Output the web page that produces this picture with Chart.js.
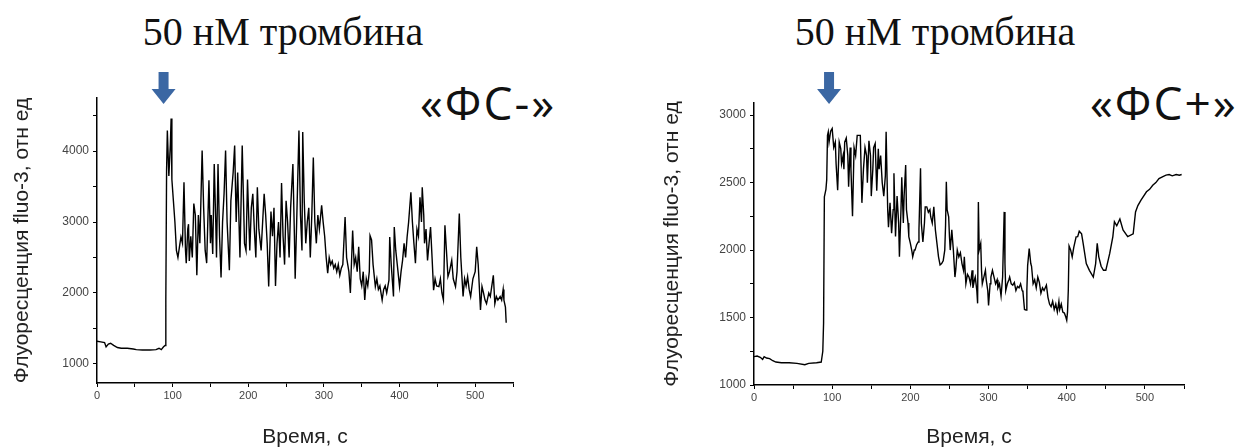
<!DOCTYPE html>
<html>
<head>
  <meta charset="UTF-8" />
  <title>fluo-3</title>
  <script src="https://cdn.jsdelivr.net/npm/chart.js"></script>
  <style>
    body {
      margin: 0;
      background: #fff;
      width: 1238px;
      height: 448px;
      position: relative;
      overflow: hidden;
    }
    .box { position: absolute; top: 0; height: 448px; }
    .head {
      position: absolute;
      top: 12px;
      font-family: "Liberation Serif", serif;
      font-size: 40px;
      line-height: 40px;
      color: #111;
      white-space: nowrap;
      transform: translateX(-50%);
    }
    .tag {
      position: absolute;
      top: 79px;
      font-family: "Open Sans", sans-serif;
      font-size: 46px;
      line-height: 46px;
      letter-spacing: 2px;
      color: #111;
      white-space: nowrap;
    }
  </style>
</head>
<body>
  <div class="head" style="left:283px">50 нМ тромбина</div>
  <div class="head" style="left:935px">50 нМ тромбина</div>
  <div class="tag" style="left:420px">«ФС-»</div>
  <div class="tag" style="left:1090px">«ФС+»</div>

  <div class="box" style="left:0px;width:560px"><canvas id="chartMinus"></canvas></div>
  <div class="box" style="left:620px;width:618px"><canvas id="chartPlus"></canvas></div>

  <script>
    // «ФС-» – время (с) и флуоресценция (отн. ед.)
    const minusTime = [0,5,10,12,15,18,22,27,32,40,48,52,60,70,78,82,85,88,90,91,92,93,95,97,98,99,101,103,105,107,109,111,113,115,117,118,120,121,122,124,126,128,130,132,134,136,139,141,143,145,148,150,151,153,155,157,158,160,162,164,166,168,170,172,175,177,180,182,184,186,189,192,195,197,199,202,204,206,208,210,212,214,217,219,221,223,225,227,230,232,234,236,238,240,242,244,246,248,250,252,254,256,259,261,262,264,267,269,271,272,274,276,278,280,282,284,286,288,290,292,294,297,299,301,303,305,307,309,311,313,315,317,319,321,323,325,328,330,333,335,338,340,342,344,346,348,350,352,354,356,358,360,361,363,365,368,370,372,374,377,379,381,383,386,387,389,392,393,395,397,400,402,404,406,408,410,412,415,417,419,421,423,425,427,429,430,432,433,435,437,439,441,443,445,447,449,452,454,456,458,460,462,464,466,469,471,474,476,479,481,484,486,488,490,492,494,497,500,502,504,507,509,511,513,515,518,520,522,524,526,528,530,533,535,537,538,540,541];
    const minusValue = [1320,1310,1300,1240,1280,1290,1260,1230,1220,1220,1210,1200,1195,1195,1200,1220,1200,1240,1260,1900,3730,4290,3650,4100,4460,3600,3300,3000,2600,2500,2650,2790,2700,3560,2600,2420,2900,2970,2450,2800,2500,3260,3100,2250,3100,2700,4010,3200,2600,2420,3590,2700,3100,2550,3820,3000,2500,3820,2800,2220,3000,3400,4010,3000,2320,3300,3700,4080,3000,3700,2500,4080,2700,2600,3600,2600,3200,3400,2900,2500,3490,2900,2600,3000,3400,3100,2700,2090,3150,2800,3200,2100,2700,3000,2500,3550,2800,2400,3300,3000,2500,3200,3820,2800,2200,3000,4290,3100,2600,4270,3300,2700,3000,3200,2500,3100,3910,3000,2700,3100,2900,3236,3000,2800,2500,2280,2500,2400,2450,2350,2400,2300,2400,2250,2350,2400,3070,2500,2300,2000,2880,2400,2500,2300,2650,2200,2100,2300,1900,2200,2100,2300,2810,2750,2400,2090,2200,2050,2100,1900,2050,2100,2000,2180,2790,2400,1950,2930,2600,2400,2090,2300,2460,2700,2500,2790,3000,3420,3000,2700,2420,2900,2800,3350,3000,3490,3100,2700,2900,2460,2700,2930,2500,2040,2200,2100,2090,2200,2000,1900,2955,2600,2230,2300,2460,2200,2090,2300,3120,2500,1950,2200,2100,2230,2050,1950,2200,2300,2650,2400,1760,2090,2000,1900,1850,2000,1950,2100,2250,1850,1950,1900,1950,1900,2050,1900,1800,1580];

    // «ФС+»
    const plusTime = [0,4,8,11,13,16,20,24,28,35,45,55,65,70,80,86,88,89,90,92,93,94,95,96,98,100,102,104,105,107,109,111,112,114,115,116,118,120,121,123,124,126,128,130,132,134,136,138,140,142,144,145,147,149,150,152,153,155,157,159,160,162,164,166,168,169,171,172,174,176,178,179,181,183,185,186,188,189,191,192,194,195,197,198,200,202,203,205,206,208,210,211,213,214,216,218,219,221,223,225,226,228,230,232,234,236,238,240,242,244,245,246,247,249,250,251,253,255,257,258,260,262,264,266,268,269,271,273,275,277,279,280,282,283,285,286,287,288,290,291,292,294,296,297,299,300,302,303,305,307,309,311,312,314,316,318,320,321,322,324,326,327,329,331,333,335,337,339,341,343,344,346,348,349,350,352,354,355,357,359,361,363,365,367,369,371,374,376,378,380,382,384,386,388,390,391,393,395,397,399,400,401,402,403,405,407,409,412,414,416,419,421,425,429,434,437,439,441,444,447,450,455,459,461,464,468,472,478,485,488,491,495,502,506,510,514,518,523,527,531,535,540,544,547,550];
    const plusValue = [1210,1215,1205,1190,1210,1200,1195,1180,1170,1165,1165,1160,1150,1160,1165,1170,1250,1460,2395,2450,2520,2850,2876,2800,2880,2900,2760,2800,2640,2444,2800,2750,2640,2700,2600,2800,2830,2700,2470,2760,2600,2250,2760,2700,2850,2850,2850,2350,2600,2760,2700,2500,2810,2700,2400,2600,2760,2790,2440,2750,2600,2700,2500,2400,2550,2876,2300,2170,2350,2125,2300,2570,2100,2400,2200,1950,2300,2540,2200,2400,2630,2300,2200,2100,2050,1990,1950,2000,2000,2040,2060,2150,2607,2200,2060,2200,2320,2320,2280,2300,2247,2200,2320,2150,2050,1950,1890,1900,1920,2000,2180,2506,2300,2247,2100,2000,2150,2000,1800,1850,2000,1950,1980,1900,1850,1950,1750,1820,1800,1750,1850,1720,1780,1800,1700,1605,2357,2000,2050,1850,1750,1800,1850,1780,1700,1590,1750,1800,1850,1800,1750,1780,1720,1750,1660,1800,2283,1900,1700,1750,1780,1800,1750,1740,1760,1700,1730,1720,1750,1700,1690,1560,1555,1700,1885,2012,1900,1880,1750,1780,1720,1800,1760,1680,1720,1700,1740,1650,1600,1580,1620,1560,1600,1540,1620,1560,1600,1540,1533,1500,1480,1540,1700,2030,2000,1950,2020,2098,2100,2140,2120,2050,1900,1850,1800,1900,2050,1950,1880,1850,1850,1975,2100,2210,2180,2230,2150,2100,2120,2283,2330,2370,2432,2450,2480,2500,2530,2545,2555,2560,2550,2560,2555,2560];

    const xTickMarks = [0,50,100,150,200,250,300,350,400,450,500,550];
    const xTickLabels = [0,100,200,300,400,500];
    const minusYMarks = [1000,1500,2000,2500,3000,3500,4000,4500];
    const minusYLabels = [1000,2000,3000,4000];
    const plusYMarks = [1000,1250,1500,1750,2000,2250,2500,2750,3000];
    const plusYLabels = [1000,1500,2000,2500,3000];

    const thrombinAt = { minus: 88, plus: 96 }; // момент добавления тромбина, с
    const yTitle = 'Флуоресценция fluo-3, отн ед';
    const xTitle = 'Время, с';

    // синяя стрелка над графиком
    const arrowPlugin = {
      id: 'arrow',
      afterDraw(chart, args, opts) {
        const ctx = chart.ctx;
        const x = chart.scales.x.getPixelForValue(opts.at);
        ctx.save();
        ctx.fillStyle = '#3b67a3';
        ctx.fillRect(x - 5, 72, 10, 18);
        ctx.beginPath();
        ctx.moveTo(x - 12, 89);
        ctx.lineTo(x + 12, 89);
        ctx.lineTo(x, 104);
        ctx.closePath();
        ctx.fill();
        ctx.restore();
      }
    };

    function makeChart(id, times, values, cfg) {
      const points = times.map((t, i) => ({ x: t, y: values[i] }));
      const titleFont = { family: 'Liberation Sans', size: 21, lineHeight: 1 };

      return new Chart(document.getElementById(id), {
        type: 'line',
        data: {
          datasets: [{
            data: points,
            borderColor: '#000',
            borderWidth: 1.4,
            pointRadius: 0,
            tension: 0
          }]
        },
        plugins: [arrowPlugin],
        options: {
          responsive: true,
          maintainAspectRatio: false,
          animation: false,
          layout: { padding: cfg.padding },
          plugins: {
            legend: { display: false },
            tooltip: { enabled: false },
            arrow: { at: cfg.arrowAt }
          },
          scales: {
            x: {
              type: 'linear',
              min: 0,
              max: 550,
              afterFit: s => { s.height = cfg.xHeight; },
              afterBuildTicks: s => { s.ticks = xTickMarks.map(v => ({ value: v })); },
              ticks: {
                autoSkip: false,
                maxRotation: 0,
                color: '#444',
                font: { family: 'Liberation Sans', size: 11 },
                padding: 2,
                callback: v => xTickLabels.includes(v) ? String(v) : ''
              },
              grid: { drawOnChartArea: false, drawTicks: true, tickLength: 4, color: '#000' },
              border: { display: true, color: '#000', width: 1.5 },
              title: { display: true, text: xTitle, color: '#222', font: titleFont, padding: { top: 0, bottom: 0 } }
            },
            y: {
              min: cfg.yMin,
              max: cfg.yMax,
              afterFit: s => { s.width = cfg.yWidth; },
              afterBuildTicks: s => { s.ticks = cfg.yMarks.map(v => ({ value: v })); },
              ticks: {
                autoSkip: false,
                color: '#444',
                font: { family: 'Liberation Sans', size: 12 },
                padding: 4,
                callback: v => cfg.yLabels.includes(v) ? String(v) : ''
              },
              grid: { drawOnChartArea: false, drawTicks: true, tickLength: 4, color: '#000' },
              border: { display: true, color: '#000', width: 1.5 },
              title: { display: true, text: yTitle, color: '#222', font: titleFont, padding: { top: cfg.yTitlePad, bottom: 0 } }
            }
          }
        }
      });
    }

    makeChart('chartMinus', minusTime, minusValue, {
      padding: { top: 98, right: 47, bottom: 0, left: 6 },
      xHeight: 65,
      yWidth: 91,
      yTitlePad: 6,
      yMin: 730,
      yMax: 4750,
      yMarks: minusYMarks,
      yLabels: minusYLabels,
      arrowAt: thrombinAt.minus
    });

    makeChart('chartPlus', plusTime, plusValue, {
      padding: { top: 103, right: 54, bottom: 0, left: 36 },
      xHeight: 63,
      yWidth: 98,
      yTitlePad: 6,
      yMin: 1000,
      yMax: 3090,
      yMarks: plusYMarks,
      yLabels: plusYLabels,
      arrowAt: thrombinAt.plus
    });
  </script>
</body>
</html>
